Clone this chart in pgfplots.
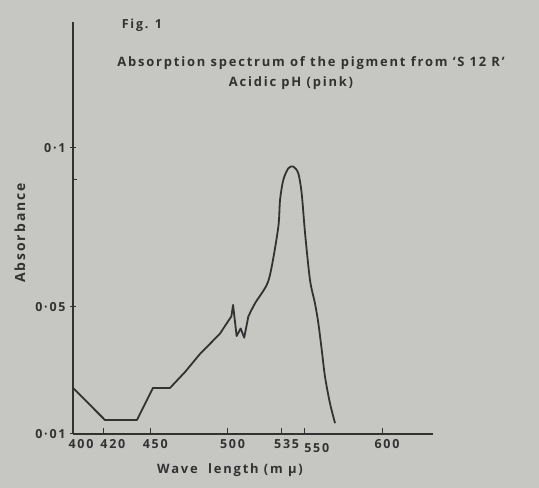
\documentclass[border=0pt]{standalone}
\usepackage{fontspec}
\setmainfont{Open Sans}[LetterSpace=14]
\usepackage{pgfplots}
\pgfplotsset{compat=1.18}
\definecolor{paper}{RGB}{198,198,195}
\definecolor{ink}{RGB}{50,50,50}
\begin{document}
\begin{tikzpicture}[x=1bp,y=1bp]
\fill[paper] (0,0) rectangle (539,488);
\useasboundingbox (0,0) rectangle (539,488);
\begin{axis}[
  at={(73bp,54bp)}, anchor=south west,
  scale only axis, width=360bp, height=412bp,
  xmin=400, xmax=633, ymin=0.01, ymax=0.1396,
  axis lines=left, axis line style={-, ink, line width=1.3pt},
  clip=false,
  xtick={420,450,500,535,550,600},
  xticklabels={\hspace*{8bp}420,450,500,535,\raisebox{-4bp}[\height][0pt]{\hspace*{14bp}550},600},
  extra x ticks={400}, extra x tick labels={400},
  extra x tick style={major tick length=0pt, xticklabel style={xshift=3bp}},
  ytick={0.01,0.05,0.1}, yticklabels={0·01,0·05,0·1},
  extra y ticks={0.09}, extra y tick labels={},
  extra y tick style={major tick length=4bp, ytick align=inside},
  x tick style={ink, line width=1pt},
  y tick style={ink, line width=1pt},
  xtick align=inside, ytick align=center,
  major tick length=6bp,
  xticklabel style={font=\bfseries\fontsize{12.5}{14}\selectfont, text=ink, anchor=north, yshift=-2bp, xshift=5bp},
  yticklabel style={font=\bfseries\fontsize{12.5}{14}\selectfont, text=ink, anchor=east, xshift=-1bp},
  xticklabel shift=0pt,
]
\addplot[ink, line width=1.8pt, line join=round] coordinates {
(400,0.0245) (420.7,0.0144) (441.4,0.0144) (451.8,0.0245) (462.8,0.0245)
(472.5,0.0295) (482.2,0.0352) (495,0.0415) (502.5,0.047) (503.6,0.0506)
(505.9,0.0408) (508.5,0.0432) (510.8,0.0403) (513.5,0.047)
};
\addplot[ink, line width=1.8pt, smooth, tension=0.5] coordinates {
(513.5,0.047) (517.8,0.0511) (525.4,0.0569) (528.6,0.0626) (532.9,0.0752)
(534,0.0836) (536.1,0.0899) (539.4,0.0936) (542.6,0.0941) (545.8,0.092)
(548,0.0857) (550.2,0.0731) (553.4,0.0584) (556.6,0.0511) (558.8,0.0448)
(561,0.0364) (563.1,0.028) (566.3,0.0197) (569.6,0.0134)
};
\end{axis}
\node[text=ink, font=\bfseries\fontsize{12.5}{14}\selectfont] at (142,463) {Fig. 1};
\node[text=ink, font=\bfseries\fontsize{13}{15}\selectfont] at (311,425) {Absorption spectrum of the pigment from ‘S 12 R’};
\node[text=ink, font=\bfseries\fontsize{13}{15}\selectfont] at (291,405) {Acidic pH (pink)};
\node[text=ink, font=\bfseries\fontsize{14}{16}\selectfont, rotate=90] at (20,255) {Absorbance};
\node[text=ink, font=\bfseries\fontsize{13}{15}\selectfont] at (230,18) {Wave\ \ length (m μ)};
\end{tikzpicture}
\end{document}
